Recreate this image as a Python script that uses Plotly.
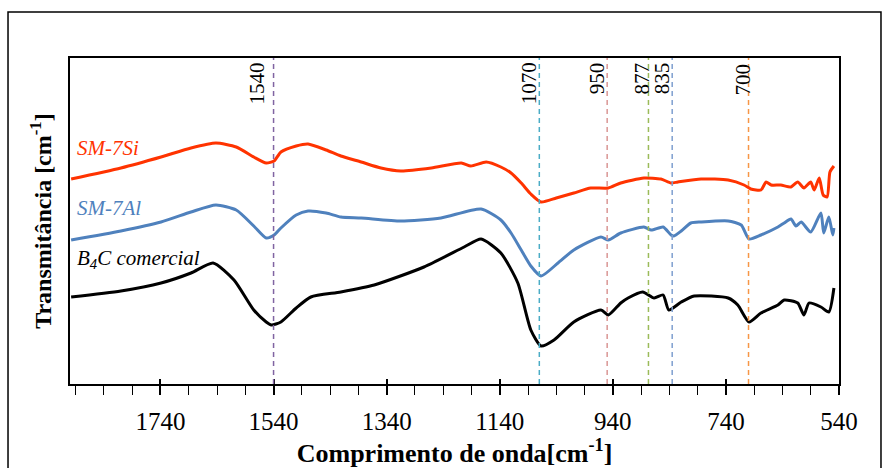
import plotly.graph_objects as go

# ---------------- data ----------------
wn_si = [1898, 1810, 1739, 1686, 1642, 1606, 1575, 1553, 1539, 1527, 1500, 1479, 1447, 1421,
         1385, 1350, 1315, 1261, 1208, 1191, 1164, 1138, 1120, 1102, 1085, 1067, 1040, 1009,
         979, 948, 926, 885, 855, 837, 825, 784, 736, 708, 696, 678, 669, 660, 643, 625, 613,
         602, 590, 584, 575, 568, 561, 556, 549]
t_si = [2.05, 2.16, 2.27, 2.36, 2.41, 2.37, 2.27, 2.21, 2.23, 2.32, 2.38, 2.40, 2.34, 2.28,
        2.22, 2.16, 2.13, 2.16, 2.21, 2.18, 2.22, 2.17, 2.11, 2.01, 1.90, 1.82, 1.86, 1.91,
        1.96, 1.96, 2.01, 2.06, 2.05, 2.01, 2.02, 2.05, 2.04, 1.99, 1.95, 1.94, 2.02, 1.99,
        1.99, 1.97, 2.02, 1.96, 2.02, 1.94, 2.06, 1.89, 1.87, 2.12, 2.18]

wn_al = [1898, 1810, 1739, 1686, 1642, 1606, 1575, 1553, 1539, 1527, 1500, 1479, 1447, 1421,
         1385, 1315, 1244, 1173, 1138, 1120, 1102, 1085, 1067, 1037, 1009, 961, 948, 926, 885,
         872, 851, 837, 832, 819, 802, 784, 736, 713, 699, 678, 648, 637, 625, 616, 607, 590,
         572, 567, 558, 551, 549]
t_al = [1.44, 1.53, 1.62, 1.72, 1.79, 1.74, 1.58, 1.46, 1.49, 1.56, 1.69, 1.73, 1.71, 1.67,
        1.66, 1.63, 1.66, 1.75, 1.64, 1.51, 1.34, 1.18, 1.08, 1.21, 1.34, 1.47, 1.44, 1.51,
        1.57, 1.54, 1.57, 1.49, 1.48, 1.53, 1.61, 1.62, 1.63, 1.59, 1.45, 1.49, 1.57, 1.61,
        1.65, 1.58, 1.62, 1.52, 1.71, 1.51, 1.67, 1.49, 1.56]

wn_b4c = [1898, 1810, 1739, 1686, 1647, 1610, 1575, 1553, 1544, 1527, 1500, 1474, 1421, 1362,
          1274, 1203, 1173, 1138, 1108, 1085, 1067, 1044, 1009, 961, 948, 926, 913, 887, 867,
          851, 841, 819, 796, 736, 719, 699, 678, 648, 637, 613, 602, 593, 572, 558, 549]
t_b4c = [0.87, 0.93, 1.01, 1.11, 1.21, 1.04, 0.74, 0.62, 0.59, 0.62, 0.76, 0.87, 0.92, 0.99,
         1.17, 1.37, 1.45, 1.31, 1.01, 0.54, 0.38, 0.44, 0.62, 0.74, 0.69, 0.81, 0.86, 0.92,
         0.86, 0.89, 0.74, 0.82, 0.88, 0.86, 0.79, 0.62, 0.71, 0.79, 0.84, 0.81, 0.69, 0.81,
         0.77, 0.72, 0.96]

series_names = ["SM-7Si", "SM-7Al", "<i>B<sub>4</sub>C comercial</i>"]
peak_positions = [1540, 1070, 950, 877, 835, 700]
peak_labels = ["1540", "1070", "950", "877", "835", "700"]
x_ticks = [540, 740, 940, 1140, 1340, 1540, 1740]

# ---------------- styles ----------------
FONT = "Liberation Serif"
series_colors = ["#FF3300", "#4F81BD", "#000000"]
peak_colors = ["#8064A2", "#4BACC6", "#D99694", "#9BBB59", "#7F9FD0", "#F79646"]
label_xshift = [-17, -10, -10, -6, -10, -6]
label_yshift = [-3, -2, -2, -2, -2, -4]
name_y = [2.36, 1.76, 1.25]

fig = go.Figure()
for wn, t, c in zip([wn_si, wn_al, wn_b4c], [t_si, t_al, t_b4c], series_colors):
    fig.add_trace(go.Scatter(x=wn, y=t, mode="lines",
                             line=dict(color=c, width=3, shape="spline", smoothing=0.6),
                             showlegend=False, hoverinfo="skip"))

for p, lab, c, xs, ys in zip(peak_positions, peak_labels, peak_colors, label_xshift, label_yshift):
    fig.add_shape(type="line", xref="x", yref="paper", x0=p, x1=p, y0=0, y1=1,
                  line=dict(color=c, width=1.5, dash="5px,4px"))
    fig.add_annotation(x=p, y=1, xref="x", yref="paper", text=lab, textangle=-90,
                       showarrow=False, xanchor="center", yanchor="top",
                       xshift=xs, yshift=ys,
                       font=dict(family=FONT, size=21, color="black"))

for name, c, yv in zip(series_names, series_colors, name_y):
    txt = name if name.startswith("<i>") else "<i>" + name + "</i>"
    fig.add_annotation(x=0.006, y=yv, xref="paper", yref="y", text=txt, showarrow=False,
                       xanchor="left", yanchor="middle",
                       font=dict(family=FONT, size=21, color=c))

# outer chart border
fig.add_shape(type="rect", xref="paper", yref="paper", x0=-0.0806, x1=1.0546,
              y0=-0.5, y1=1.141, line=dict(color="black", width=1.5), layer="below")

fig.update_layout(
    width=882, height=468,
    margin=dict(l=70, r=43, t=58, b=84),
    paper_bgcolor="white", plot_bgcolor="white",
    font=dict(family=FONT, color="black"),
    xaxis=dict(range=[1900, 540], tickmode="array", tickvals=x_ticks,
               ticktext=[str(v) for v in x_ticks], automargin=False,
               ticks="outside", ticklen=9, tickwidth=1.5, tickcolor="black",
               minor=dict(tickmode="linear", tick0=540, dtick=50, ticks="outside",
                          ticklen=9, tickwidth=1.2, tickcolor="black", showgrid=False),
               showline=True, linecolor="black", linewidth=2, mirror=True,
               showgrid=False, zeroline=False, ticklabelstandoff=5,
               tickfont=dict(family=FONT, size=25, color="black"),
               title=dict(text="<b>Comprimento de onda[cm<sup>-1</sup>]</b>",
                          font=dict(family=FONT, size=26, color="black"), standoff=14)),
    xaxis2=dict(range=[1900, 540], overlaying="x", anchor="y", side="bottom",
                tickmode="array", tickvals=x_ticks, showticklabels=False, automargin=False,
                ticks="inside", ticklen=5, tickwidth=1.5, tickcolor="black",
                showline=False, showgrid=False, zeroline=False),
    yaxis=dict(range=[0, 3.26], showticklabels=False, ticks="", automargin=False,
               showline=True, linecolor="black", linewidth=2, mirror=True,
               showgrid=False, zeroline=False,
               title=dict(text="<b>Transmitância [cm<sup>-1</sup>]</b>",
                          font=dict(family=FONT, size=24, color="black"), standoff=10)),
)
# dummy trace for xaxis2 so it renders
fig.add_trace(go.Scatter(x=[None], y=[None], xaxis="x2", yaxis="y", showlegend=False,
                         hoverinfo="skip"))

fig.write_html("out.html")
